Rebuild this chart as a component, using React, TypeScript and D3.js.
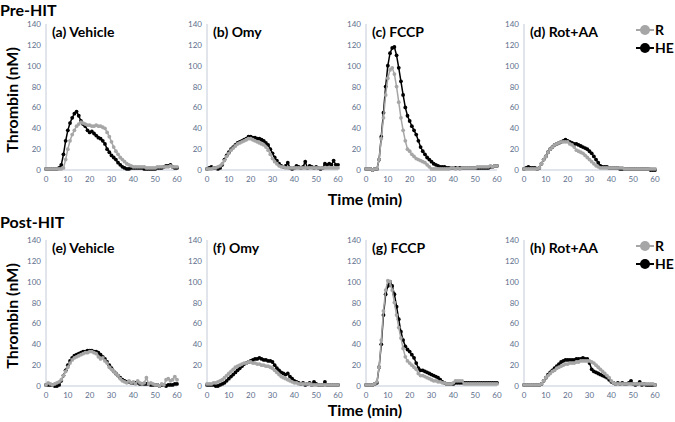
import { useEffect, useRef } from "react";
import * as d3 from "d3";

// minutes 0..60, one value per minute
const time = d3.range(0, 61);

const panelNames = ["(a) Vehicle", "(b) Omy", "(c) FCCP", "(d) Rot+AA", "(e) Vehicle", "(f) Omy", "(g) FCCP", "(h) Rot+AA"];
const rowTitles = ["Pre-HIT", "Post-HIT"];
const seriesNames = ["R", "HE"];
const yTicks = [0, 20, 40, 60, 80, 100, 120, 140];
const xTicks = [0, 10, 20, 30, 40, 50, 60];

const aR = [1,1,1,1,1,1,1,1,2,10,20,28,34,38,42,44,46,45,44,43,43,42,42,43,42,42,41,40,36,32,27,22,18,15,12,10,8,6,5,4,3,3,3,3,3,3,2,2,2,2,2,3,3,3,3,3,3,4,3,3,3];
const aHE = [1,1,1,1,1,1,2,5,15,28,38,45,50,54,56,52,47,44,42,38,36,37,35,33,31,30,28,25,20,17,14,12,10,7,5,3,2,1,1,2,2,2,2,2,2,1,1,1,1,1,1,2,2,2,3,4,4,5,3,2,2];
const bR = [1,1,1,2,2,3,4,6,9,13,16,19,21,23,25,26,27,28,29,30,30,29,28,27,26,25,24,22,19,15,11,8,6,4,3,3,2,2,2,2,2,2,2,2,2,2,2,2,2,2,2,2,2,2,2,2,2,2,2,2,2];
const bHE = [1,2,3,2,2,1,2,5,10,14,17,20,22,24,26,27,28,29,30,32,32,31,31,30,30,29,28,26,24,20,16,12,9,6,4,3,4,7,2,1,2,4,3,2,3,8,2,4,3,2,3,2,1,2,6,5,6,5,9,5,5];
const cR = [1,1,1,0,1,1,10,30,50,72,88,96,98,92,80,65,50,38,28,20,18,15,13,11,10,9,8,7,5,3,1,1,1,1,1,1,1,1,1,2,2,1,2,1,2,2,2,2,2,2,2,3,3,3,3,3,3,4,3,4,4];
const cHE = [1,1,1,0,1,1,10,32,55,80,100,112,117,118,110,98,85,72,60,52,47,42,38,34,28,22,18,15,12,10,8,6,5,4,3,3,3,2,2,2,2,2,2,2,2,2,2,2,2,2,2,2,2,2,2,2,2,3,3,4,4];
const dR = [1,1,1,1,1,1,1,2,6,10,13,17,20,22,24,25,26,27,27,27,27,25,24,22,19,18,17,16,14,12,10,8,6,4,3,2,2,2,2,2,2,2,2,2,2,2,1,1,1,1,1,1,1,1,1,1,1,1,1,1,1];
const dHE = [1,2,3,2,2,2,1,2,6,10,13,17,20,22,24,25,26,27,28,29,28,27,26,25,25,24,23,22,21,20,18,16,13,10,7,4,3,3,3,2,2,2,2,2,1,1,1,1,1,1,1,1,1,1,1,1,1,1,0,0,0];
const eR = [1,3,2,1,2,3,4,6,10,14,18,22,25,27,28,29,30,31,32,32,33,33,32,31,28,26,27,24,22,18,16,14,12,10,7,5,4,3,5,3,4,2,5,3,2,3,8,2,3,2,1,1,0,2,1,6,7,5,6,9,6];
const eHE = [1,1,1,1,0,0,1,5,10,15,20,24,27,29,30,31,32,33,33,34,34,34,33,33,32,30,28,26,23,20,17,14,12,10,8,6,5,4,4,3,3,3,3,2,2,2,2,2,1,1,1,1,0,1,1,0,1,1,1,2,2];
const fR = [2,2,2,3,3,4,5,6,8,10,12,14,16,18,19,20,21,22,22,23,23,22,22,21,21,20,20,19,19,18,17,15,13,11,9,8,7,6,5,4,3,3,2,2,2,2,2,2,1,1,1,1,1,1,1,1,1,1,1,1,1];
const fHE = [1,1,1,1,0,0,1,2,3,5,7,9,11,13,15,17,19,21,22,23,24,25,26,26,27,26,25,25,24,24,23,20,17,15,13,12,11,12,9,7,5,4,3,2,3,1,2,3,1,4,2,1,1,1,4,1,1,1,1,1,1];
const gR = [1,1,1,1,2,4,18,44,72,92,101,100,92,80,68,56,46,36,28,24,22,20,18,16,12,10,10,9,8,7,6,5,5,4,4,3,3,2,2,2,3,5,5,5,5,2,2,2,2,2,2,2,2,2,2,2,2,2,2,2,2];
const gHE = [1,1,1,1,2,3,18,40,68,88,96,100,96,88,76,64,52,44,38,35,33,30,27,22,17,15,15,14,13,12,11,10,9,8,6,4,3,2,2,2,2,3,3,3,3,3,3,3,3,3,3,3,3,3,3,3,3,3,3,3,3];
const hR = [1,1,1,1,1,1,1,1,2,5,8,10,12,14,15,17,18,19,20,21,21,22,22,22,23,23,24,24,24,24,24,23,22,20,18,16,14,12,10,8,5,3,2,2,2,2,2,2,2,2,2,2,2,2,2,2,2,2,2,2,1];
const hHE = [1,1,1,1,1,1,1,1,2,5,8,11,13,15,17,19,21,23,24,25,25,25,25,25,26,26,26,27,26,26,22,16,14,13,12,11,10,9,8,6,4,3,2,3,2,3,2,2,3,5,2,1,2,4,1,2,1,1,1,1,1];

const rSeries = [aR, bR, cR, dR, eR, fR, gR, hR];
const heSeries = [aHE, bHE, cHE, dHE, eHE, fHE, gHE, hHE];

const colors = { R: "#a6a6a6", HE: "#000000" };

export default function App() {
  const svgRef = useRef<SVGSVGElement>(null);

  useEffect(() => {
    const width = 675;
    const height = 422;
    const svg = d3.select(svgRef.current);
    svg.selectAll("*").remove();
    svg.attr("width", width).attr("height", height);

    const font = "Lato, 'Open Sans', sans-serif";
    const colLeft = [46, 207, 366, 524];
    const plotW = 131;
    const rowBase = [170, 386];
    const plotH = 146;

    // row titles, axis titles
    rowTitles.forEach((t, r) => {
      svg.append("text")
        .attr("x", 0).attr("y", [16, 228][r])
        .attr("font-family", font).attr("font-weight", "bold").attr("font-size", 16)
        .text(t);
      svg.append("text")
        .attr("transform", `translate(18, ${rowBase[r] - 70}) rotate(-90)`)
        .attr("text-anchor", "middle")
        .attr("font-family", font).attr("font-weight", "bold").attr("font-size", 16)
        .text("Thrombin (nM)");
      svg.append("text")
        .attr("x", 365).attr("y", [205, 416][r])
        .attr("text-anchor", "middle")
        .attr("font-family", font).attr("font-weight", "bold").attr("font-size", 16)
        .text("Time (min)");
    });

    panelNames.forEach((name, i) => {
      const row = Math.floor(i / 4);
      const col = i % 4;
      const x0 = colLeft[col];
      const y0 = rowBase[row];

      const x = d3.scaleLinear().domain([0, 60]).range([x0, x0 + plotW]);
      const y = d3.scaleLinear().domain([0, 140]).range([y0, y0 - plotH]);

      const g = svg.append("g");

      // axes
      g.append("line")
        .attr("x1", x(0)).attr("x2", x(0)).attr("y1", y(0)).attr("y2", y(140))
        .attr("stroke", "#c3cad8").attr("stroke-width", 1);
      g.append("line")
        .attr("x1", x(0)).attr("x2", x(60)).attr("y1", y(0)).attr("y2", y(0))
        .attr("stroke", "#c3cad8").attr("stroke-width", 1);

      g.selectAll(".yt")
        .data(yTicks)
        .enter()
        .append("text")
        .attr("x", x(0) - 5)
        .attr("y", (d) => y(d) + 3)
        .attr("text-anchor", "end")
        .attr("font-family", font).attr("font-size", 8)
        .attr("fill", "#5d6e8c")
        .text((d) => d);

      g.selectAll(".xt")
        .data(xTicks)
        .enter()
        .append("text")
        .attr("x", (d) => x(d))
        .attr("y", y(0) + 12)
        .attr("text-anchor", "middle")
        .attr("font-family", font).attr("font-size", 8)
        .attr("fill", "#5d6e8c")
        .text((d) => d);

      // series: HE first, R drawn on top
      const line = d3.line<number>()
        .x((_, k) => x(time[k]))
        .y((d) => y(d));

      const drawSeries = (vals: number[], color: string) => {
        g.append("path")
          .datum(vals)
          .attr("d", line)
          .attr("fill", "none")
          .attr("stroke", color)
          .attr("stroke-width", 1.5);
        g.append("g")
          .selectAll("circle")
          .data(vals)
          .enter()
          .append("circle")
          .attr("cx", (_, k) => x(time[k]))
          .attr("cy", (d) => y(d))
          .attr("r", 1.9)
          .attr("fill", color);
      };
      drawSeries(heSeries[i], colors.HE);
      drawSeries(rSeries[i], colors.R);

      // panel label
      g.append("text")
        .attr("x", x0 + 6).attr("y", y(140) + 13)
        .attr("font-family", font).attr("font-weight", "bold").attr("font-size", 14)
        .text(name);

      // legend on last column
      if (col === 3) {
        seriesNames.forEach((s, k) => {
          const ly = y(140) + 6 + k * 18;
          const c = s === "R" ? colors.R : colors.HE;
          g.append("line")
            .attr("x1", 636).attr("x2", 654).attr("y1", ly).attr("y2", ly)
            .attr("stroke", c).attr("stroke-width", 2);
          g.append("circle").attr("cx", 645).attr("cy", ly).attr("r", 5).attr("fill", c);
          g.append("text")
            .attr("x", 655).attr("y", ly + 5)
            .attr("font-family", font).attr("font-weight", "bold").attr("font-size", 14)
            .text(s);
        });
      }
    });
  }, []);

  return (
    <svg
      ref={svgRef}
      style={{ position: "absolute", left: 0, top: 0, background: "#fff" }}
    />
  );
}
